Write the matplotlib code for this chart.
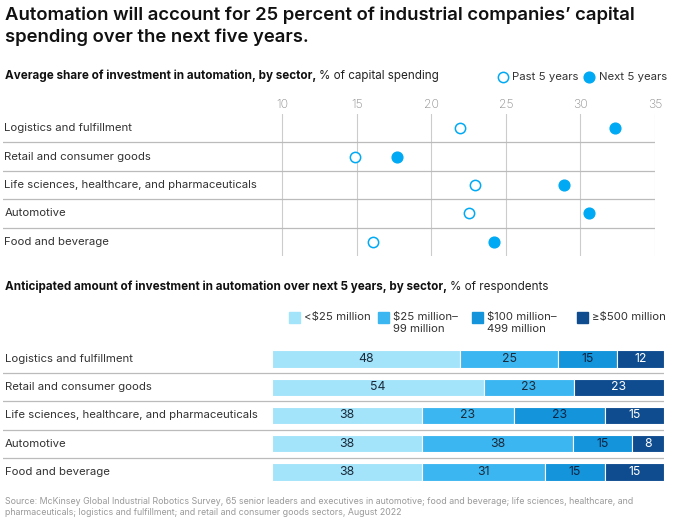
import matplotlib.pyplot as plt
from matplotlib.patches import Rectangle

plt.rcParams['font.family'] = ['Inter', 'DejaVu Sans']

W, H = 680, 531

# Data
SECTORS = ["Logistics and fulfillment",
           "Retail and consumer goods",
           "Life sciences, healthcare, and pharmaceuticals",
           "Automotive",
           "Food and beverage"]
PAST_5 = [21.9, 14.9, 22.9, 22.5, 16.1]
NEXT_5 = [32.3, 17.7, 28.9, 30.6, 24.2]
X_TICKS = [10, 15, 20, 25, 30, 35]

BUCKETS = ["<$25 million", "$25 million–\n99 million",
           "$100 million–\n499 million", "≥$500 million"]
SHARES = [[48, 25, 15, 12],
          [54, 23, 0, 23],
          [38, 23, 23, 15],
          [38, 38, 15, 8],
          [38, 31, 15, 15]]

# Styles
DOT = "#00a9f4"
BAR_COLORS = ["#a3e4fb", "#3cb6f1", "#1494da", "#0f4c8f"]
TEXT_COLORS = ["#1a2a3a", "#1a2a3a", "#0b2545", "white"]
TXT = "#333333"
GRID = "#cccccc"
LBL_SIZE = 8.2


def ax_px(fig, left, top, right, bottom):
    return fig.add_axes([left / W, 1 - bottom / H, (right - left) / W, (bottom - top) / H])


def header(fig, y, bold, rest, size=8.4):
    # bold lead-in followed by regular text
    t = fig.text(5 / W, 1 - y / H, bold, ha="left", va="center", fontsize=size,
                 fontweight="bold", color="#111111")
    r = fig.canvas.get_renderer()
    bb = t.get_window_extent(renderer=r)
    fig.text(bb.x1 / W + 3 / W, 1 - y / H, rest, ha="left", va="center", fontsize=size, color="#222222")


fig = plt.figure(figsize=(W / 100, H / 100), dpi=100)

# Title
fig.text(5 / W, 1 - 7 / H, "Automation will account for 25 percent of industrial companies’ capital\nspending over the next five years.",
         ha="left", va="top", fontsize=13.3, fontweight="semibold", color="#111111", linespacing=1.3)

# ---- Top chart: dot plot
header(fig, 76, "Average share of investment in automation, by sector,", "% of capital spending")

ax = ax_px(fig, 3, 114, 655, 256)
ppu = (655 - 282.3) / 25.0
ax.set_xlim(10 - (282.3 - 3) / ppu, 35)
ax.set_ylim(4.5, -0.5)
for t in X_TICKS:
    ax.axvline(t, color=GRID, lw=0.8, zorder=0)
    ax.text(t, -0.6, str(t), ha="center", va="bottom", fontsize=8.8, color="#8a8a8a", fontweight="light")
for k in range(len(SECTORS) - 1):
    ax.plot([ax.get_xlim()[0], 35], [k + 0.5, k + 0.5], color="#bbbbbb", lw=0.9, zorder=1)
ys = list(range(len(SECTORS)))
ax.scatter(PAST_5, ys, s=55, facecolor="white", edgecolor=DOT, linewidth=1.1, zorder=3)
ax.scatter(NEXT_5, ys, s=60, color=DOT, zorder=3)
for i, name in enumerate(SECTORS):
    ax.text(ax.get_xlim()[0] + 0.1, i, name, ha="left", va="center", fontsize=LBL_SIZE, color=TXT)
ax.axis("off")

# Top legend
fig.text(512 / W, 1 - 77 / H, "Past 5 years", ha="left", va="center", fontsize=LBL_SIZE, color=TXT)
fig.text(599 / W, 1 - 77 / H, "Next 5 years", ha="left", va="center", fontsize=LBL_SIZE, color=TXT)
lg = ax_px(fig, 0, 0, W, H)
lg.set_xlim(0, W)
lg.set_ylim(H, 0)
lg.axis("off")
lg.scatter([503], [77], s=55, facecolor="white", edgecolor=DOT, linewidth=1.1)
lg.scatter([589], [77], s=60, color=DOT)

# ---- Bottom chart: stacked bars
header(fig, 287, "Anticipated amount of investment in automation over next 5 years, by sector,", "% of respondents", size=8.4)

# legend squares
leg_x = [289, 378, 472, 577]
for j, lab in enumerate(BUCKETS):
    lg.add_patch(Rectangle((leg_x[j], 312), 11, 11, color=BAR_COLORS[j]))
    lg.text(leg_x[j] + 15, 312, lab, ha="left", va="top", fontsize=LBL_SIZE, color=TXT, linespacing=1.2)

bx = ax_px(fig, 3, 345, 664, 486)
ppb = (664 - 272) / 100.0
x0 = -(272 - 3) / ppb
bx.set_xlim(x0, 100)
bx.set_ylim(4.5, -0.5)
for i, row in enumerate(SHARES):
    scale = 100.0 / sum(row)  # rows are drawn full width
    left = 0
    for j, v in enumerate(row):
        if v == 0:
            continue
        w = v * scale
        bx.barh(i, w, left=left, height=0.62, color=BAR_COLORS[j], edgecolor="white", linewidth=0.8)
        bx.text(left + w / 2, i, str(v), ha="center", va="center", fontsize=8.8, color=TEXT_COLORS[j])
        left += w
    bx.text(x0 + 0.5, i, SECTORS[i], ha="left", va="center", fontsize=LBL_SIZE, color=TXT)
for k in range(len(SECTORS) - 1):
    bx.plot([x0, 100], [k + 0.5, k + 0.5], color="#bbbbbb", lw=0.9)
bx.axis("off")

# Source
fig.text(5 / W, 1 - 497 / H, "Source: McKinsey Global Industrial Robotics Survey, 65 senior leaders and executives in automotive; food and beverage; life sciences, healthcare, and\npharmaceuticals; logistics and fulfillment; and retail and consumer goods sectors, August 2022",
         ha="left", va="top", fontsize=6.35, color="#999999", linespacing=1.35)

fig.savefig("out.png", dpi=100)
